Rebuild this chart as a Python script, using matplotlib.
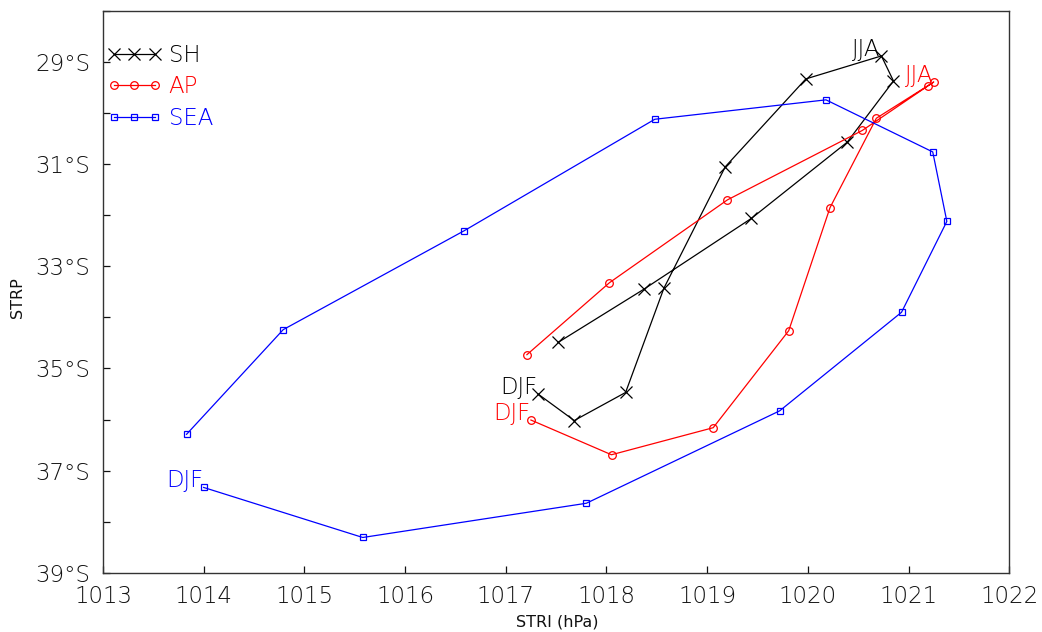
import numpy as np
import matplotlib
matplotlib.use('Agg')
from matplotlib import pyplot as plt
from matplotlib.ticker import FixedLocator, MultipleLocator

plt.rcParams['font.family'] = ['DejaVu Sans']
plt.rcParams['font.weight'] = 'light'

# monthly STR intensity (hPa) and position (latitude, negative = south)
sh_stri = [1017.32, 1017.68, 1018.19, 1018.57, 1019.18, 1019.98,
           1020.73, 1020.85, 1020.39, 1019.44, 1018.37, 1017.52]
sh_strp = [-35.50, -36.02, -35.47, -33.43, -31.05, -29.33,
           -28.88, -29.37, -30.57, -32.06, -33.45, -34.49]

ap_stri = [1017.25, 1018.05, 1019.06, 1019.81, 1020.22, 1020.68,
           1021.25, 1021.19, 1020.54, 1019.20, 1018.03, 1017.21]
ap_strp = [-36.01, -36.69, -36.16, -34.26, -31.85, -30.10,
           -29.39, -29.47, -30.34, -31.70, -33.32, -34.73]

sea_stri = [1014.00, 1015.58, 1017.80, 1019.72, 1020.93, 1021.38,
            1021.24, 1020.18, 1018.48, 1016.59, 1014.79, 1013.83]
sea_strp = [-37.33, -38.31, -37.64, -35.83, -33.90, -32.12,
            -30.76, -29.74, -30.12, -32.30, -34.24, -36.29]

xticks = [1013, 1014, 1015, 1016, 1017, 1018, 1019, 1020, 1021, 1022]
yticks = [-29, -31, -33, -35, -37, -39]
ylabels = ['29°S', '31°S', '33°S', '35°S', '37°S', '39°S']

fig = plt.figure(figsize=(10.42, 6.32), dpi=100)
ax = fig.add_axes([0.0988, 0.0938, 0.8698, 0.8888])

series = [
    ('SH', sh_stri, sh_strp, 'black', 'x', 8.5, True),
    ('AP', ap_stri, ap_strp, 'red', 'o', 5.5, True),
    ('SEA', sea_stri, sea_strp, 'blue', 's', 3.8, False),
]
for name, xs, ys, c, m, ms, jja in series:
    ax.plot(xs, ys, color=c, lw=0.9, marker=m, ms=ms, mfc='none',
            mec=c, mew=0.9, label=name)
    # season tags: first month = DJF, July = JJA
    ax.annotate('DJF', (xs[0], ys[0]), xytext=(-0.5, 0), textcoords='offset points',
                ha='right', va='baseline', color=c, fontsize=16.5)
    if jja:
        ax.annotate('JJA', (xs[6], ys[6]), xytext=(-0.5, 0), textcoords='offset points',
                    ha='right', va='baseline', color=c, fontsize=16.5)

ax.set_xlim(1013, 1022)
ax.set_ylim(-39, -28)
ax.xaxis.set_major_locator(FixedLocator(xticks))
ax.yaxis.set_major_locator(FixedLocator(yticks))
ax.set_yticklabels(ylabels)
ax.yaxis.set_minor_locator(MultipleLocator(1))
ax.tick_params(axis='both', which='both', direction='in', length=5,
               width=0.9, labelsize=16.5, colors='#111111', top=False, right=False)
ax.tick_params(axis='x', pad=9)
ax.tick_params(axis='y', pad=9)
for s in ax.spines.values():
    s.set_linewidth(1.0)
    s.set_color('#333333')

ax.set_xlabel('STRI (hPa)', fontsize=11.5, color='#111111')
ax.set_ylabel('STRP', fontsize=11.5, color='#111111')
ax.xaxis.set_label_coords(0.501, -0.075)
ax.yaxis.set_label_coords(-0.086, 0.489)

leg = ax.legend(loc='upper left', bbox_to_anchor=(-0.011, 0.966), frameon=False,
                numpoints=3, handlelength=2.4, handletextpad=0.3,
                labelspacing=0.37, fontsize=16.5, borderaxespad=0.2,
                labelcolor='linecolor')

fig.savefig('out.png', dpi=100)
